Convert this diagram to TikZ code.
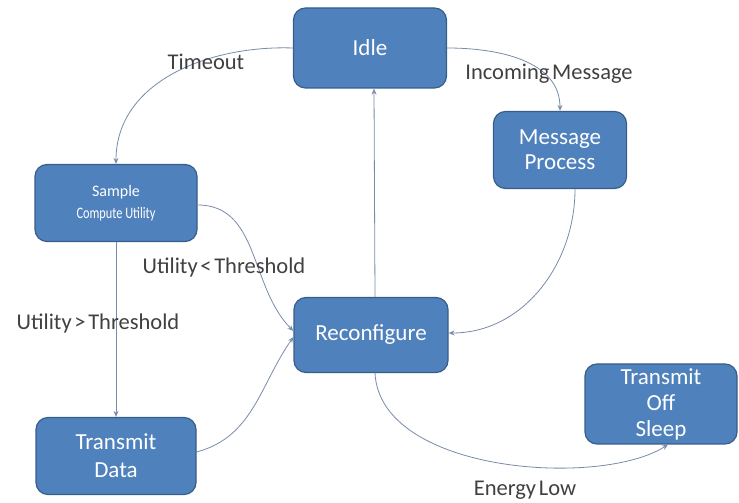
\documentclass[tikz,border=0pt]{standalone}
\usepackage{fontspec}
\usepackage{graphicx}
\setmainfont{Carlito}
\usetikzlibrary{arrows.meta}
\definecolor{boxfill}{RGB}{79,129,189}
\definecolor{boxline}{RGB}{56,93,138}
\definecolor{conn}{RGB}{120,138,170}
\definecolor{lbl}{RGB}{64,64,64}
\newcommand{\mylabfont}{\fontsize{22.5}{24}\selectfont\spaceskip 0.12em\relax}
\begin{document}
\begin{tikzpicture}[x=1pt,y=1pt,
  state/.style={draw=boxline,fill=boxfill,line width=1.2pt,rounded corners=12pt,
    text=white,align=center,inner sep=0pt,font=\fontsize{23}{27}\selectfont},
  conn/.style={draw=conn,line width=0.8pt,-{Stealth[length=6pt,width=5pt,open]}},
  lab/.style={text=lbl,font=\mylabfont,inner sep=0pt}]
\useasboundingbox (0,0) rectangle (739,503);
\node[state,minimum width=153pt,minimum height=80pt] (idle) at (370,455) {Idle};
\node[state,minimum width=133pt,minimum height=77pt,font=\fontsize{23}{25}\selectfont] (msg) at (560,353) {Message\\Process};
\node[state,minimum width=162pt,minimum height=77pt,font=\fontsize{16}{22}\selectfont] (sample) at (116,300) {Sample\\\scalebox{0.77}[1]{Compute Utility}};
\node[state,minimum width=154pt,minimum height=75pt] (reconf) at (371,168) {Reconfigure};
\node[state,minimum width=160pt,minimum height=77pt,font=\fontsize{23}{28}\selectfont] (tdata) at (116,47) {Transmit\\Data};
\node[state,minimum width=152pt,minimum height=80pt,font=\fontsize{23}{26}\selectfont] (sleep) at (661,99) {Transmit\\Off\\Sleep};
\draw[conn] (idle.west) to[out=178,in=90] (sample.north);
\draw[conn] (idle.east) to[out=0,in=90] (msg.north);
\draw[conn] ([xshift=15pt]msg.south) to[out=-90,in=0] ([yshift=2pt]reconf.east);
\draw[conn] ([xshift=4pt]reconf.north) -- ([xshift=4pt]idle.south);
\draw[conn] ([yshift=-2pt]sample.east) to[out=0,in=135] ([yshift=4pt]reconf.west);
\draw[conn] (sample.south) -- (tdata.north);
\draw[conn] ([yshift=4pt]tdata.east) to[out=15,in=-125] ([yshift=-2pt]reconf.west);
\draw[conn] ([xshift=4pt]reconf.south) .. controls (380,30) and (600,15) .. ([xshift=7pt]sleep.south);
\node[lab] (l1) at (206,441) {Timeout};
\node[lab] (l2) at (549,429) {Incoming Message};
\node[lab] (l3) at (224,235) {Utility < Threshold};
\node[lab] (l4) at (98,179) {Utility > Threshold};
\node[lab] (l5) at (525,13) {Energy Low};
\end{tikzpicture}
\end{document}
